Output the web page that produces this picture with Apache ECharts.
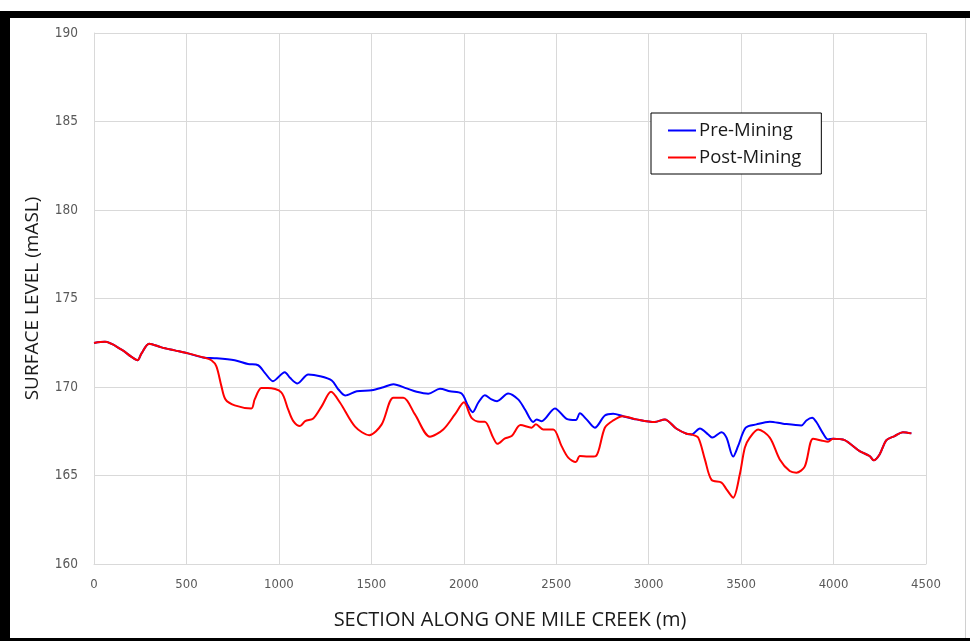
<!DOCTYPE html>
<html>
<head>
<meta charset="utf-8">
<script src="https://cdn.jsdelivr.net/npm/echarts@6/dist/echarts.min.js"></script>
<style>
html,body{margin:0;padding:0;background:#fff;}
#chart{width:970px;height:641px;}
</style>
</head>
<body>
<div id="chart"></div>
<script>
var xTicks = [0, 500, 1000, 1500, 2000, 2500, 3000, 3500, 4000, 4500];
var yTicks = [160, 165, 170, 175, 180, 185, 190];

var preDist = [0, 59, 149, 203, 235, 257, 298, 365, 437, 509, 599, 653, 761, 833, 888, 924, 968, 1032, 1060, 1100, 1159, 1223, 1286, 1322, 1358, 1421, 1502, 1565, 1619, 1691, 1745, 1808, 1871, 1925, 1988, 2024, 2048, 2078, 2114, 2150, 2180, 2240, 2294, 2331, 2376, 2394, 2421, 2493, 2556, 2606, 2628, 2664, 2709, 2763, 2808, 2862, 2934, 3033, 3087, 3151, 3205, 3232, 3277, 3322, 3345, 3394, 3421, 3457, 3484, 3525, 3583, 3655, 3727, 3826, 3853, 3884, 3907, 3943, 3970, 3997, 4060, 4141, 4195, 4217, 4249, 4286, 4330, 4375, 4421];
var preLevel = [172.49, 172.55, 172.11, 171.7, 171.51, 171.9, 172.45, 172.24, 172.07, 171.9, 171.65, 171.63, 171.51, 171.3, 171.23, 170.8, 170.33, 170.84, 170.52, 170.2, 170.7, 170.61, 170.37, 169.86, 169.52, 169.76, 169.82, 169.99, 170.16, 169.92, 169.73, 169.62, 169.9, 169.76, 169.63, 168.92, 168.58, 169.11, 169.54, 169.3, 169.2, 169.63, 169.3, 168.73, 168.02, 168.17, 168.07, 168.79, 168.2, 168.13, 168.51, 168.17, 167.7, 168.39, 168.49, 168.35, 168.17, 168.02, 168.17, 167.64, 167.36, 167.32, 167.66, 167.32, 167.14, 167.45, 167.14, 166.07, 166.67, 167.7, 167.89, 168.04, 167.93, 167.83, 168.11, 168.26, 168.02, 167.38, 167.04, 167.08, 167.0, 166.38, 166.1, 165.86, 166.19, 167.0, 167.23, 167.45, 167.38];

var postDist = [0, 59, 149, 203, 235, 257, 298, 365, 437, 509, 599, 635, 662, 689, 711, 761, 851, 869, 905, 941, 1013, 1050, 1078, 1114, 1142, 1186, 1232, 1282, 1331, 1412, 1489, 1556, 1619, 1673, 1736, 1817, 1889, 1952, 2001, 2042, 2087, 2114, 2159, 2182, 2223, 2259, 2307, 2367, 2390, 2430, 2484, 2529, 2565, 2606, 2628, 2673, 2714, 2763, 2808, 2859, 2934, 3033, 3087, 3151, 3205, 3232, 3268, 3304, 3340, 3394, 3421, 3457, 3493, 3520, 3547, 3592, 3655, 3709, 3763, 3799, 3844, 3889, 3934, 3970, 3997, 4060, 4141, 4195, 4217, 4249, 4286, 4330, 4375, 4421];
var postLevel = [172.49, 172.55, 172.11, 171.7, 171.51, 171.9, 172.45, 172.24, 172.07, 171.9, 171.65, 171.51, 171.17, 170.05, 169.3, 168.96, 168.79, 169.3, 169.95, 169.95, 169.7, 168.73, 168.07, 167.79, 168.07, 168.22, 168.92, 169.73, 169.11, 167.76, 167.28, 167.89, 169.39, 169.39, 168.45, 167.19, 167.6, 168.45, 169.14, 168.26, 168.04, 168.04, 167.14, 166.79, 167.1, 167.23, 167.85, 167.7, 167.89, 167.6, 167.6, 166.66, 166.01, 165.76, 166.1, 166.07, 166.1, 167.7, 168.11, 168.35, 168.17, 168.02, 168.17, 167.64, 167.36, 167.32, 167.14, 165.91, 164.75, 164.6, 164.22, 163.75, 165.07, 166.57, 167.14, 167.6, 167.14, 165.91, 165.25, 165.16, 165.5, 167.08, 166.98, 166.91, 167.08, 167.0, 166.38, 166.1, 165.86, 166.19, 167.0, 167.23, 167.45, 167.38];

function pairs(xs, ys) { return xs.map(function (x, i) { return [x, ys[i]]; }); }

var chart = echarts.init(document.getElementById('chart'));
var labelFont = "'Liberation Sans Narrow', 'DejaVu Sans Condensed', 'Roboto', sans-serif";
var titleFont = "'Open Sans', 'Liberation Sans', sans-serif";

chart.setOption({
  animation: false,
  backgroundColor: '#ffffff',
  grid: { left: 94, right: 44, top: 33, bottom: 77, containLabel: false },
  xAxis: {
    type: 'value', min: xTicks[0], max: xTicks[xTicks.length - 1], interval: 500,
    name: 'SECTION ALONG ONE MILE CREEK (m)', nameLocation: 'middle', nameGap: 46,
    nameTextStyle: { fontFamily: titleFont, fontSize: 20, color: '#1a1a1a' },
    axisLine: { show: true, lineStyle: { color: '#d9d9d9', width: 1 } },
    axisTick: { show: false },
    axisLabel: { fontFamily: labelFont, fontSize: 13, color: '#595959', margin: 14,
      formatter: function (v) { return String(v); } },
    splitLine: { show: true, lineStyle: { color: '#d9d9d9', width: 1 } }
  },
  yAxis: {
    type: 'value', min: yTicks[0], max: yTicks[yTicks.length - 1], interval: 5,
    name: 'SURFACE LEVEL (mASL)', nameLocation: 'middle', nameGap: 52, nameRotate: 90,
    nameTextStyle: { fontFamily: titleFont, fontSize: 19, color: '#1a1a1a' },
    axisLine: { show: true, lineStyle: { color: '#d9d9d9', width: 1 } },
    axisTick: { show: false },
    axisLabel: { fontFamily: labelFont, fontSize: 13.5, color: '#595959', margin: 16,
      formatter: function (v) { return String(v); } },
    splitLine: { show: true, lineStyle: { color: '#d9d9d9', width: 1 } }
  },
  legend: {
    orient: 'vertical', left: 651, top: 113,
    padding: [8, 20, 7, 17], itemGap: 8,
    itemWidth: 28, itemHeight: 2, icon: 'rect',
    borderColor: '#000', borderWidth: 1, backgroundColor: '#fff',
    textStyle: { fontFamily: titleFont, fontSize: 18.5, color: '#1a1a1a', padding: [0, 0, 0, -2] },
    data: ['Pre-Mining', 'Post-Mining']
  },
  series: [
    { name: 'Pre-Mining', type: 'line', data: pairs(preDist, preLevel), showSymbol: false, smooth: 0.3,
      lineStyle: { color: '#0000ff', width: 2 }, itemStyle: { color: '#0000ff' } },
    { name: 'Post-Mining', type: 'line', data: pairs(postDist, postLevel), showSymbol: false, smooth: 0.3,
      lineStyle: { color: '#ff0000', width: 2 }, itemStyle: { color: '#ff0000' } }
  ],
  graphic: [
    { type: 'rect', shape: { x: 0, y: 11, width: 970, height: 7 }, style: { fill: '#000' }, silent: true },
    { type: 'rect', shape: { x: 0, y: 11, width: 10, height: 630 }, style: { fill: '#000' }, silent: true },
    { type: 'rect', shape: { x: 0, y: 638, width: 970, height: 3 }, style: { fill: '#000' }, silent: true },
    { type: 'rect', shape: { x: 965, y: 18, width: 1, height: 620 }, style: { fill: '#d0d0d0' }, silent: true }
  ]
});
</script>
</body>
</html>
